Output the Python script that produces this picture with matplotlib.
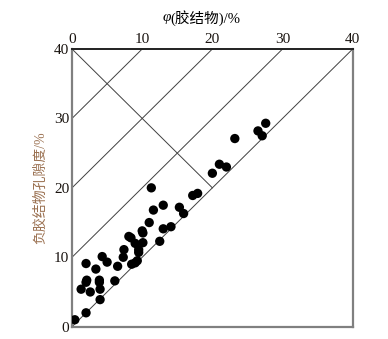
import numpy as np
import matplotlib
matplotlib.use("Agg")
import matplotlib.pyplot as plt

plt.rcParams['font.family'] = ['Liberation Serif', 'Noto Sans CJK SC']

# cement volume (%) vs minus-cement porosity (%)
cement = [0.4, 2.0, 1.3, 2.0, 2.1, 2.0, 2.6, 3.4, 3.9, 3.9, 4.0, 4.0, 4.3, 5.0,
          6.1, 6.5, 7.3, 7.4, 8.1, 8.4, 8.5, 9.0, 9.3, 9.0, 9.5, 9.5, 10.1, 10.1,
          10.0, 11.0, 11.3, 11.6, 12.5, 13.0, 13.0, 14.1, 15.3, 15.9, 17.2, 17.9,
          20.0, 21.0, 22.0, 23.2, 26.5, 27.6, 27.1]
porosity = [1.0, 2.0, 5.4, 6.4, 6.7, 9.1, 5.0, 8.3, 6.7, 6.4, 5.4, 3.9, 10.1, 9.3,
            6.6, 8.7, 10.0, 11.1, 13.0, 12.8, 9.0, 9.2, 9.5, 12.0, 11.1, 10.7, 12.1, 13.5,
            13.8, 15.0, 20.0, 16.8, 12.3, 17.5, 14.1, 14.4, 17.2, 16.3, 18.9, 19.2,
            22.1, 23.4, 23.0, 27.1, 28.2, 29.3, 27.5]
ticks = [0, 10, 20, 30, 40]
offsets = [0, 10, 20, 30]

fig = plt.figure(figsize=(3.88, 3.39), dpi=100)
ax = fig.add_axes([0.1856, 0.0363, 0.7235, 0.8192])

# guide lines y = x + c
for c in offsets:
    xs = np.array([0, 40 - c])
    ax.plot(xs, xs + c, color='#404040', lw=0.7, zorder=1)
# line y = 40 - x down to the 1:1 line
xs = np.array([0, 20])
ax.plot(xs, 40 - xs, color='#404040', lw=0.7, zorder=1)

ax.scatter(cement, porosity, s=45, color='black', zorder=3, edgecolors='none')

ax.set_xlim(0, 40)
ax.set_ylim(0, 40)
ax.xaxis.tick_top()
ax.set_xticks(ticks)
ax.set_yticks(ticks)
ax.tick_params(length=0, labelsize=11, colors='#1a1410', pad=2)

for s in ['left', 'bottom', 'right']:
    ax.spines[s].set_color('#808080')
    ax.spines[s].set_linewidth(1.6)
ax.spines['top'].set_color('#202020')
ax.spines['top'].set_linewidth(1.4)

ax.set_ylabel('负胶结物孔隙度/%', color='#9a7050', fontsize=10, labelpad=5)

fig.text(0.418, 0.947, 'φ', style='italic', fontsize=11, ha='left', va='center')
fig.text(0.438, 0.947, '(胶结物)/%', fontsize=10.5, ha='left', va='center')

fig.savefig('out.png', dpi=100)
